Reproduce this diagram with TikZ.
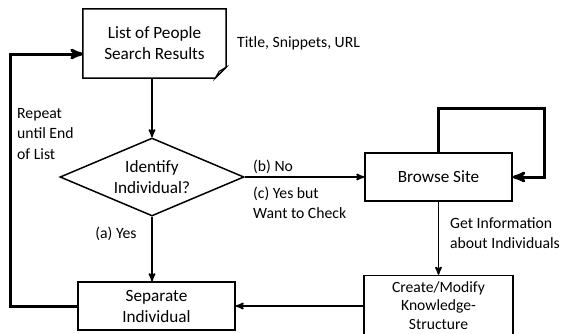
\documentclass[tikz,border=0pt]{standalone}
\usepackage{fontspec}
\setmainfont{Carlito}
\usetikzlibrary{arrows,shapes.geometric}

\begin{document}
\begin{tikzpicture}[x=1pt,y=-1pt,>=stealth',font=\fontsize{17.2}{21}\selectfont]

    \tikzstyle{box}=[draw=black,fill=white,line width=1.5pt,align=center,inner sep=2pt]
    \tikzstyle{decision}=[diamond,draw=black,line width=1.5pt,align=center,inner sep=0pt,
                          minimum width=184pt,minimum height=78pt,aspect=2.36]
    \tikzstyle{note}=[align=left,inner sep=0pt,anchor=west,font=\fontsize{15.7}{20.5}\selectfont]
    \tikzstyle{flow}=[->,line width=1.7pt]
    \tikzstyle{backline}=[->,line width=3pt]

    \useasboundingbox (0,0) rectangle (561,333);

    % the search results page
    \node[align=center,minimum width=143pt,minimum height=69pt] (results) at (154.5,43.5) {List of People\\Search Results};
    \draw[line width=1.5pt] (results.north west) -- (results.north east) -- ([yshift=11pt]results.south east)
        -- ([xshift=-11pt]results.south east) -- (results.south west) -- cycle;
    \draw[line width=1pt,fill=gray!60] ([yshift=11pt]results.south east) -- ([xshift=-11pt]results.south east)
        -- ([xshift=-7pt,yshift=7pt]results.south east) -- cycle;

    \node[decision] (ident) at (152,177) {Identify\\Individual?};
    \node[box,minimum width=147pt,minimum height=48pt] (browse) at (438.5,177) {Browse Site};
    \node[box,minimum width=149pt,minimum height=60pt,font=\fontsize{15.6}{18.5}\selectfont] (create) at (438.5,305.5) {Create/Modify\\Knowledge-\\Structure};
    \node[box,minimum width=157pt,minimum height=48pt] (separate) at (156.5,306) {Separate\\Individual};

    \node[note] (fields) at (237,43) {Title, Snippets, URL};
    \node[note] (repeat) at (17,134) {Repeat\\until End\\of List};
    \node[note] (no) at (253,167) {(b) No};
    \node[note] (check) at (253,203) {(c) Yes but\\Want to Check};
    \node[note,anchor=center] (yes) at (116,234) {(a) Yes};
    \node[note] (getinfo) at (450,233) {Get Information\\about Individuals};

    \coordinate (loopL) at (10,54);
    \coordinate (loopR) at (544,108);

    \draw[flow] (ident.north |- results.south) -- (ident.north);
    \draw[flow] (ident.east) -- (browse.west);
    \draw[flow] (ident.south) -- (ident.south |- separate.north);
    \draw[flow] (browse.south) -- (browse.south |- create.north);
    \draw[flow] (create.west |- separate.east) -- (separate.east);
    \draw[backline] (browse.north) |- (loopR) |- (browse.east);
    \draw[backline] (separate.west) -| (loopL) -- (loopL -| results.west);

\end{tikzpicture}
\end{document}
